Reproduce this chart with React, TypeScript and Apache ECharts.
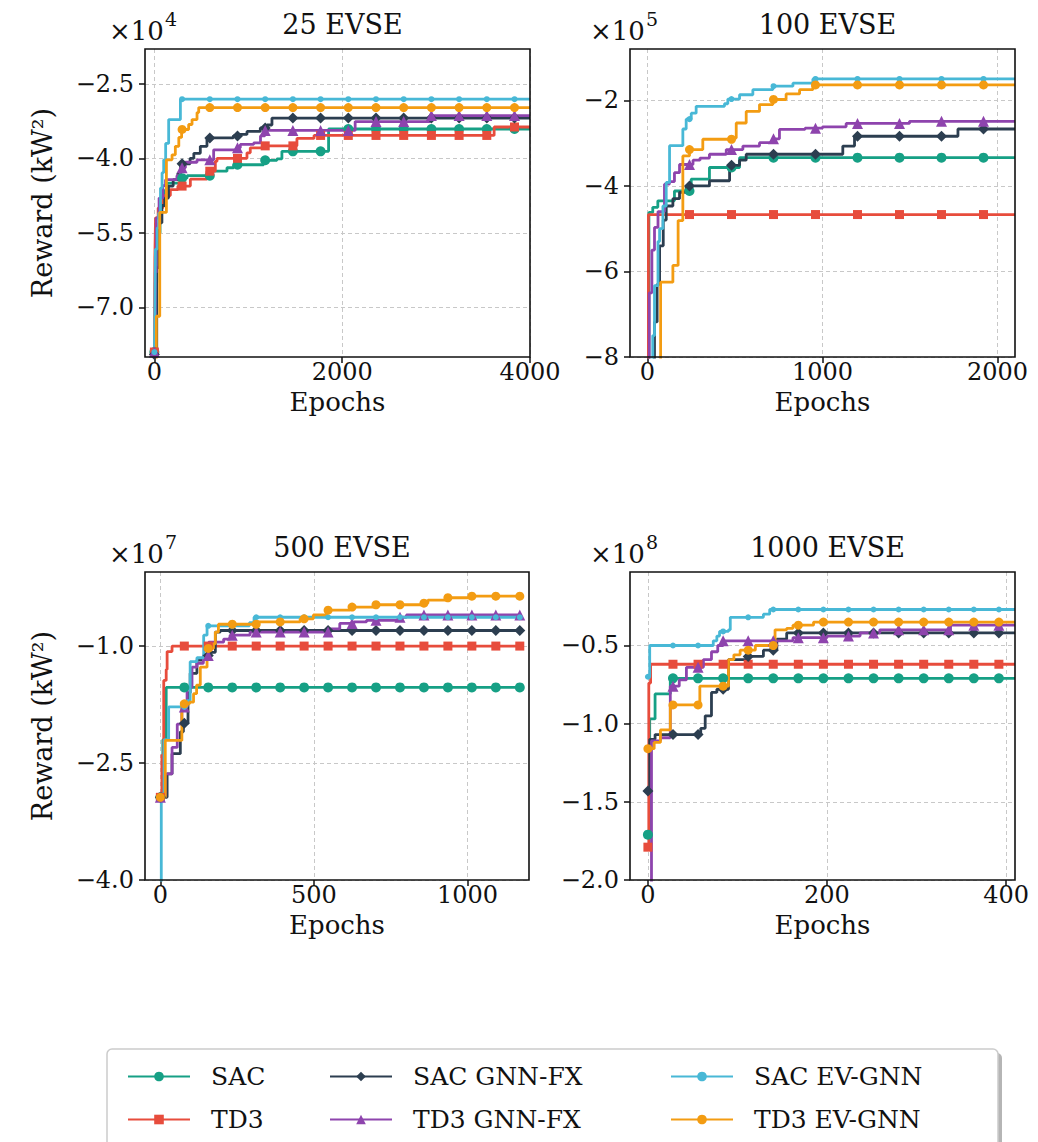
import React, { useEffect, useRef } from "react";
import * as echarts from "echarts";

const NAMES = ["SAC", "TD3", "SAC GNN-FX", "TD3 GNN-FX", "SAC EV-GNN", "TD3 EV-GNN"];
const COLORS = ["#16a085", "#e74c3c", "#2c3e50", "#8e44ad", "#48b8d6", "#f39c12"];
const SYMBOLS = ["circle", "rect", "diamond", "triangle", "circle", "circle"];
const SYMBOL_SIZES = [10, 9, 11, 11, 6, 9];

// ---- 25 EVSE (x1e4) ----
const P25_SAC = [[0, -7.9], [10, -6.5], [25, -5.5], [60, -4.9], [100, -4.65], [135, -4.5], [277, -4.4], [348, -4.35], [596, -4.26], [773, -4.19], [844, -4.13], [1163, -4.04], [1305, -4.01], [1358, -3.86], [1855, -3.41]];
const P25_TD3 = [[0, -7.9], [5, -6.0], [12, -5.2], [40, -5.0], [90, -4.75], [170, -4.63], [250, -4.56], [383, -4.42], [560, -4.26], [649, -4.06], [667, -4.0], [986, -3.89], [1021, -3.79], [1163, -3.75], [1518, -3.6], [1700, -3.54], [3618, -3.37]];
const P25_SACFX = [[0, -7.95], [25, -6.2], [50, -5.3], [80, -4.95], [110, -4.8], [150, -4.56], [200, -4.43], [250, -4.3], [280, -4.11], [380, -4.0], [420, -3.9], [489, -3.76], [560, -3.59], [840, -3.55], [915, -3.52], [986, -3.46], [1128, -3.39], [1199, -3.33], [1252, -3.19]];
const P25_TD3FX = [[0, -7.9], [10, -6.3], [20, -5.2], [50, -4.8], [90, -4.55], [119, -4.43], [240, -4.35], [277, -4.19], [330, -4.08], [454, -4.03], [631, -3.83], [880, -3.79], [915, -3.72], [1057, -3.69], [1130, -3.55], [1175, -3.44], [2138, -3.26], [2937, -3.14]];
const P25_SACEV = [[0, -7.9], [5, -7.1], [11, -5.83], [30, -5.4], [46, -5.1], [65, -4.6], [82, -4.29], [99, -4.03], [120, -3.7], [152, -3.22], [277, -2.81]];
const P25_TD3EV = [[0, -8.3], [21, -7.18], [57, -5.09], [128, -4.03], [188, -3.93], [223, -3.76], [260, -3.58], [290, -3.42], [365, -3.32], [401, -3.22], [454, -3.08], [472, -2.98]];

// ---- 100 EVSE (x1e5) ----
const P100_SAC = [[0, -9.5], [8, -4.62], [30, -4.5], [59, -4.35], [154, -4.12], [250, -3.84], [354, -3.57], [526, -3.34]];
const P100_TD3 = [[0, -9.5], [5, -4.67]];
const P100_SACFX = [[0, -9.5], [40, -7.18], [55, -6.3], [69, -5.4], [90, -4.8], [107, -4.47], [145, -4.3], [183, -4.15], [221, -4.0], [354, -3.88], [469, -3.52], [526, -3.4], [564, -3.26], [1116, -3.07], [1183, -2.84], [1774, -2.67]];
const P100_TD3FX = [[0, -9.5], [10, -6.5], [25, -5.5], [40, -4.97], [60, -4.6], [97, -3.96], [125, -3.9], [154, -3.69], [183, -3.5], [260, -3.4], [300, -3.35], [354, -3.26], [450, -3.15], [545, -3.07], [640, -2.99], [716, -2.9], [754, -2.68], [900, -2.65], [1000, -2.62], [1135, -2.54], [1497, -2.49]];
const P100_SACEV = [[0, -9.5], [30, -7.5], [40, -6.33], [60, -5.3], [69, -5.0], [88, -4.47], [107, -3.92], [126, -3.06], [202, -2.67], [221, -2.44], [250, -2.3], [278, -2.14], [440, -2.08], [459, -1.97], [526, -1.87], [602, -1.75], [716, -1.67], [831, -1.6], [945, -1.5]];
const P100_TD3EV = [[0, -10], [75, -6.25], [145, -5.86], [175, -4.81], [202, -3.3], [240, -3.15], [316, -2.91], [488, -2.88], [507, -2.53], [564, -2.26], [640, -2.1], [716, -1.98], [792, -1.85], [869, -1.75], [945, -1.64]];

// ---- 500 EVSE (x1e7) ----
const P500_SAC = [[0, -2.94], [8, -2.2], [19, -1.53]];
const P500_TD3 = [[0, -2.94], [5, -2.4], [11, -1.44], [19, -1.3], [22, -1.07], [38, -1.0]];
const P500_SACFX = [[0, -2.94], [22, -2.64], [38, -2.38], [65, -2.1], [75, -1.99], [90, -1.6], [97, -1.35], [119, -1.18], [140, -1.12], [162, -1.08], [179, -0.82], [195, -0.8]];
const P500_TD3FX = [[0, -2.94], [16, -2.64], [38, -2.3], [55, -2.0], [70, -1.78], [87, -1.53], [103, -1.27], [119, -1.22], [140, -1.12], [157, -0.95], [206, -0.91], [227, -0.86], [292, -0.82], [552, -0.78], [584, -0.71], [630, -0.69], [671, -0.67], [779, -0.63], [801, -0.6]];
const P500_SACEV = [[0, -4.5], [3, -2.9], [12, -2.2], [27, -1.78], [86, -1.7], [97, -1.2], [119, -1.15], [141, -0.86], [152, -0.74], [290, -0.7], [305, -0.63]];
const P500_TD3EV = [[0, -2.94], [16, -2.21], [70, -1.74], [95, -1.72], [108, -1.61], [118, -1.5], [130, -1.27], [152, -1.03], [173, -0.97], [179, -0.82], [189, -0.72], [314, -0.69], [455, -0.65], [498, -0.6], [541, -0.54], [617, -0.5], [695, -0.47], [850, -0.45], [871, -0.41], [931, -0.38], [1007, -0.36]];

// ---- 1000 EVSE (x1e8) ----
const P1000_SAC = [[0, -1.71], [2, -0.97], [8, -0.81], [25, -0.71]];
const P1000_TD3 = [[0, -1.79], [1, -0.74], [3, -0.62]];
const P1000_SACFX = [[0, -1.43], [2, -1.1], [8, -1.07], [59, -1.03], [64, -0.95], [71, -0.8], [77, -0.78], [90, -0.59], [110, -0.57], [129, -0.53], [144, -0.46], [155, -0.42]];
const P1000_TD3FX = [[0, -2.5], [4, -1.11], [14, -1.09], [25, -0.76], [35, -0.72], [43, -0.64], [62, -0.59], [71, -0.54], [78, -0.5], [84, -0.47], [162, -0.45], [200, -0.44], [237, -0.42], [259, -0.4], [338, -0.37]];
const P1000_SACEV = [[0, -0.7], [2, -0.5], [73, -0.47], [77, -0.44], [80, -0.41], [90, -0.4], [92, -0.32], [129, -0.3], [136, -0.27]];
const P1000_TD3EV = [[0, -1.16], [7, -1.12], [14, -1.04], [25, -0.88], [58, -0.76], [90, -0.59], [96, -0.56], [103, -0.53], [120, -0.5], [142, -0.4], [155, -0.39], [162, -0.37], [185, -0.35]];

const TITLES = ["25 EVSE", "100 EVSE", "500 EVSE", "1000 EVSE"];
const EXPONENTS = ["4", "5", "7", "8"];
const X_TICKS = [[0, 2000, 4000], [0, 1000, 2000], [0, 500, 1000], [0, 200, 400]];
const Y_TICKS = [[-7.0, -5.5, -4.0, -2.5], [-8, -6, -4, -2], [-4.0, -2.5, -1.0], [-2.0, -1.5, -1.0, -0.5]];
const Y_DECIMALS = [1, 0, 1, 1];
const X_RANGE = [[-100, 4000], [-100, 2100], [-50, 1200], [-20, 410]];
const Y_RANGE = [[-8.0, -1.8], [-8, -0.8], [-4.0, -0.05], [-2.0, -0.03]];
const MARK_EVERY = [295, 240, 78, 28];
const DATA_END = [4000, 2100, 1175, 410];
const PANEL_DATA = [
  [P25_SAC, P25_TD3, P25_SACFX, P25_TD3FX, P25_SACEV, P25_TD3EV],
  [P100_SAC, P100_TD3, P100_SACFX, P100_TD3FX, P100_SACEV, P100_TD3EV],
  [P500_SAC, P500_TD3, P500_SACFX, P500_TD3FX, P500_SACEV, P500_TD3EV],
  [P1000_SAC, P1000_TD3, P1000_SACFX, P1000_TD3FX, P1000_SACEV, P1000_TD3EV],
];

const GRIDS = [
  { left: 145, top: 49, width: 385, height: 308 },
  { left: 630, top: 49, width: 385, height: 308 },
  { left: 145, top: 572, width: 384, height: 308 },
  { left: 630, top: 572, width: 385, height: 308 },
];

const FONT = "DejaVu Serif";

function buildData(steps: number[][], every: number, end: number) {
  const lookup = (x: number) => {
    let v = steps[0][1];
    for (const p of steps) if (p[0] <= x) v = p[1];
    return v;
  };
  const pts: { x: number; y: number; mark: boolean }[] = steps.map((p) => ({ x: p[0], y: p[1], mark: false }));
  for (let m = 0; m <= end; m += every) {
    const ex = pts.find((p) => p.x === m);
    if (ex) ex.mark = true;
    else pts.push({ x: m, y: lookup(m), mark: true });
  }
  if (!pts.find((p) => p.x === end)) pts.push({ x: end, y: lookup(end), mark: false });
  pts.sort((a, b) => a.x - b.x);
  return pts.map((p) => (p.mark ? { value: [p.x, p.y] } : { value: [p.x, p.y], symbol: "none" }));
}

function fmtY(v: number, d: number) {
  const s = Math.abs(v).toFixed(d);
  return v < 0 ? "\u2212" + s : s;
}

export default function App() {
  const ref = useRef<HTMLDivElement>(null);
  useEffect(() => {
    if (!ref.current) return;
    const chart = echarts.init(ref.current, undefined, { renderer: "svg" });
    const xAxis: any[] = [];
    const yAxis: any[] = [];
    const series: any[] = [];
    const titles: any[] = [];
    const graphics: any[] = [];
    GRIDS.forEach((g, i) => {
      xAxis.push({
        type: "value",
        gridIndex: i,
        min: X_RANGE[i][0],
        max: X_RANGE[i][1],
        name: "Epochs",
        nameLocation: "middle",
        nameGap: 32,
        nameTextStyle: { fontFamily: FONT, fontSize: 26, color: "#111" },
        axisLine: { show: false, onZero: false },
        axisTick: { show: true, length: 6, lineStyle: { color: "#111", width: 1.5 }, customValues: X_TICKS[i] },
        axisLabel: { fontFamily: FONT, fontSize: 24, color: "#111", margin: 3, customValues: X_TICKS[i], formatter: (v: number) => String(v) },
        splitLine: { show: true, lineStyle: { color: "#c8c8c8", type: [4, 3], width: 1 } },
      });
      yAxis.push({
        type: "value",
        gridIndex: i,
        min: Y_RANGE[i][0],
        max: Y_RANGE[i][1],
        name: i % 2 === 0 ? "Reward (kW\u00b2)" : "",
        nameLocation: "middle",
        nameGap: 89,
        nameRotate: 90,
        nameTextStyle: { fontFamily: FONT, fontSize: 27, color: "#111" },
        axisLine: { show: false, onZero: false },
        axisTick: { show: true, length: 6, lineStyle: { color: "#111", width: 1.5 }, customValues: Y_TICKS[i] },
        axisLabel: { fontFamily: FONT, fontSize: 24, color: "#111", margin: 11, customValues: Y_TICKS[i], formatter: (v: number) => fmtY(v, Y_DECIMALS[i]) },
        splitLine: { show: true, lineStyle: { color: "#c8c8c8", type: [4, 3], width: 1 } },
      });
      titles.push({
        text: TITLES[i],
        left: g.left + g.width / 2,
        top: g.top - 43,
        textAlign: "center",
        textStyle: { fontFamily: FONT, fontSize: 27, fontWeight: "normal", color: "#111" },
      });
      const ox = i % 2 === 0 ? 109 : 590;
      graphics.push({
        type: "text",
        x: ox,
        y: g.top - 18,
        style: { text: "\u00d710", font: `26px "${FONT}"`, fill: "#111", verticalAlign: "middle" },
      });
      graphics.push({
        type: "text",
        x: ox + 56,
        y: g.top - 30,
        style: { text: EXPONENTS[i], font: `19px "${FONT}"`, fill: "#111", verticalAlign: "middle" },
      });
      // axes frame (spines) drawn on top of the grid lines
      graphics.push({
        type: "rect",
        z: 100,
        shape: { x: g.left, y: g.top, width: g.width, height: g.height },
        style: { fill: "none", stroke: "#111", lineWidth: 1.6 },
        silent: true,
      });
      PANEL_DATA[i].forEach((steps, k) => {
        series.push({
          name: NAMES[k],
          type: "line",
          xAxisIndex: i,
          yAxisIndex: i,
          step: "end",
          symbol: SYMBOLS[k],
          symbolSize: SYMBOL_SIZES[k],
          showSymbol: true,
          clip: true,
          lineStyle: { color: COLORS[k], width: 2.8 },
          itemStyle: { color: COLORS[k] },
          emphasis: { disabled: true },
          data: buildData(steps, MARK_EVERY[i], DATA_END[i]),
        });
      });
    });

    // legend box
    graphics.push({ type: "rect", z: -1, shape: { x: 111, y: 1053, width: 891, height: 100, r: 5 }, style: { fill: "#b5b5b5" } });
    graphics.push({ type: "rect", z: 0, shape: { x: 107, y: 1049, width: 891, height: 100, r: 5 }, style: { fill: "#ffffff", stroke: "#cccccc", lineWidth: 1.5 } });

    const legendBase = {
      orient: "vertical",
      top: 1059,
      itemWidth: 62,
      itemHeight: 12,
      itemGap: 18,
      textStyle: { fontFamily: FONT, fontSize: 25, color: "#111", padding: [0, 0, 0, 16] },
      selectedMode: false,
    };

    chart.setOption({
      animation: false,
      backgroundColor: "#ffffff",
      title: titles,
      grid: GRIDS.map((g) => ({ ...g, show: false, containLabel: false })),
      xAxis,
      yAxis,
      series,
      legend: [
        { ...legendBase, left: 122, data: ["SAC", "TD3"] },
        { ...legendBase, left: 324, data: ["SAC GNN-FX", "TD3 GNN-FX"] },
        { ...legendBase, left: 665, data: ["SAC EV-GNN", "TD3 EV-GNN"] },
      ],
      graphic: graphics,
    });
    return () => chart.dispose();
  }, []);
  return <div ref={ref} style={{ position: "fixed", left: 0, top: 0, width: 1038, height: 1142 }} />;
}
